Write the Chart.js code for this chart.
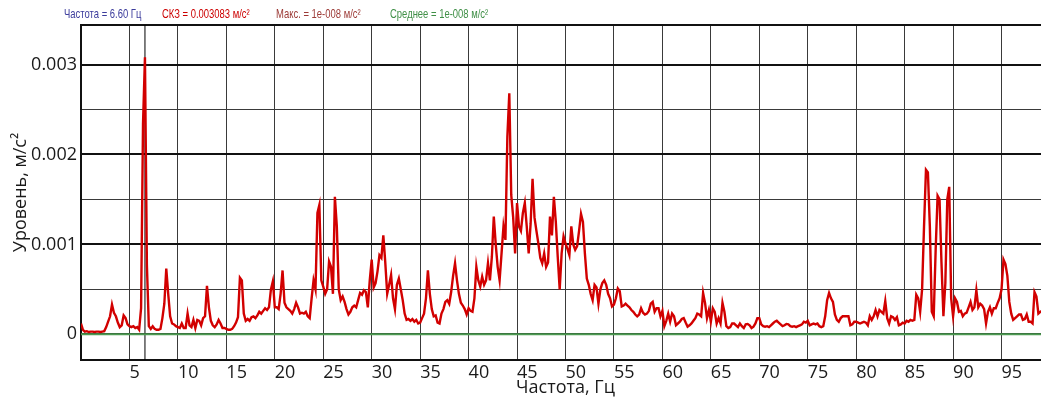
<!DOCTYPE html>
<html lang="ru">
<head>
<meta charset="utf-8">
<title>Спектр</title>
<script src="https://cdn.jsdelivr.net/npm/chart.js@4/dist/chart.umd.min.js"></script>
<style>
  html, body { margin: 0; padding: 0; background: #fff; overflow: hidden; }
  #wrap { position: relative; width: 1041px; height: 401px; overflow: hidden; }
  #spectrum { position: absolute; left: 0; top: 0; }
  .hdr { position: absolute; top: 7px; font: 13.5px/13.5px "Liberation Sans", Arial, sans-serif;
         white-space: nowrap; transform: scaleX(0.7); transform-origin: 0 0; }
</style>
</head>
<body>
<div id="wrap">
  <canvas id="spectrum" width="1050" height="401"></canvas>
  <div class="hdr" style="left:64px;color:#3c3c9c">Частота = 6.60 Гц</div>
  <div class="hdr" style="left:162px;color:#cc0000">СКЗ = 0.003083 м/с²</div>
  <div class="hdr" style="left:276px;color:#9c3a36">Макс. = 1e-008 м/с²</div>
  <div class="hdr" style="left:390px;color:#3f8f46">Среднее = 1e-008 м/с²</div>
</div>
<script>
  // ==================== данные спектра ====================
  // шаг спектра 0.2 Гц, уровни в единицах 1e-4 м/с² (0 ... 100 Гц)
  const FREQ_STEP = 0.2;
  const levelE4 = [
    1.2, 0.5, 0.3, 0.35, 0.25, 0.3, 0.3, 0.25, 0.3, 0.3,
    0.25, 0.3, 0.35, 0.8, 1.4, 2.0, 3.3, 2.4, 2.0, 1.3,
    0.8, 1.0, 2.1, 1.8, 1.1, 0.9, 0.8, 0.9, 0.7, 0.8,
    0.5, 2.9, 23.4, 30.8, 7.7, 0.9, 0.6, 0.9, 0.6, 0.5,
    0.5, 0.6, 1.8, 3.4, 7.3, 4.5, 2.0, 1.2, 1.1, 0.9,
    0.8, 0.7, 1.2, 0.7, 0.7, 2.3, 1.0, 0.8, 1.6, 0.7,
    1.6, 1.5, 1.0, 1.8, 2.0, 5.4, 3.0, 1.5, 1.0, 0.8,
    1.1, 1.6, 1.2, 0.7, 0.7, 0.6, 0.5, 0.5, 0.6, 0.9,
    1.3, 1.9, 6.3, 6.0, 2.3, 1.5, 1.7, 1.5, 1.9, 2.0,
    1.8, 2.1, 2.5, 2.3, 2.6, 2.9, 2.7, 3.0, 5.0, 5.9,
    3.0, 3.0, 2.8, 4.5, 7.1, 3.5, 3.0, 2.8, 2.6, 2.3,
    2.8, 3.5, 3.0, 2.3, 2.4, 2.3, 2.5, 2.0, 1.8, 4.0,
    6.0, 5.0, 13.5, 14.4, 6.0, 5.3, 4.5, 5.0, 8.1, 7.5,
    4.5, 15.3, 12.0, 5.0, 3.8, 4.2, 3.6, 2.8, 2.2, 2.5,
    3.0, 3.2, 3.0, 3.8, 4.6, 4.4, 4.9, 4.7, 3.0, 6.0,
    8.3, 5.2, 5.7, 7.0, 8.8, 8.5, 11.0, 8.0, 4.5, 5.5,
    6.6, 4.0, 2.8, 5.5, 6.2, 5.0, 3.8, 2.3, 1.6, 1.7,
    1.5, 1.7, 1.4, 1.6, 1.2, 1.3, 1.8, 2.3, 4.0, 7.1,
    4.5, 2.8, 2.0, 2.1, 1.3, 1.2, 2.3, 2.8, 3.6, 3.8,
    3.4, 4.7, 6.5, 7.9, 6.0, 4.5, 3.5, 3.2, 2.8, 2.2,
    2.9, 2.6, 2.5, 4.0, 7.5, 6.0, 5.3, 6.4, 5.5, 6.0,
    7.9, 6.0, 8.6, 13.1, 10.0, 7.5, 6.0, 9.0, 12.0, 10.5,
    22.0, 26.8, 15.5, 13.0, 9.0, 14.6, 12.0, 11.5, 13.5, 14.6,
    12.0, 9.0, 12.3, 17.3, 13.0, 11.5, 10.1, 8.5, 7.9, 9.0,
    7.5, 8.0, 13.1, 11.0, 15.3, 12.5, 8.6, 5.0, 9.0, 10.9,
    10.1, 9.5, 8.8, 12.0, 10.0, 9.4, 9.8, 11.5, 13.4, 12.5,
    9.0, 6.2, 5.5, 4.5, 3.8, 5.5, 5.2, 3.4, 5.0, 5.7,
    6.0, 5.5, 4.5, 4.0, 3.1, 3.3, 4.0, 5.1, 4.8, 3.1,
    3.2, 3.4, 3.2, 3.0, 2.7, 2.5, 2.2, 2.0, 2.2, 2.9,
    2.4, 2.2, 2.3, 2.6, 3.4, 3.6, 2.5, 2.9, 2.9, 2.0,
    2.6, 0.9, 1.5, 2.3, 1.4, 2.3, 2.0, 1.0, 1.2, 1.4,
    1.7, 1.8, 1.3, 0.85, 1.0, 1.2, 1.5, 1.8, 2.3, 2.2,
    2.0, 4.6, 3.5, 1.8, 2.7, 1.4, 2.9, 2.5, 1.2, 1.8,
    1.2, 3.5, 2.5, 0.9, 0.7, 0.8, 1.2, 1.2, 1.0, 0.8,
    1.2, 0.9, 0.7, 1.1, 1.15, 1.0, 0.7, 0.85, 1.2, 1.8,
    1.8, 1.1, 0.9, 0.85, 0.9, 0.8, 1.0, 1.2, 1.4, 1.5,
    1.3, 1.1, 0.9, 1.0, 1.15, 1.1, 0.9, 0.85, 0.9, 0.8,
    0.9, 1.0, 1.1, 1.4, 1.3, 1.5, 1.0, 1.1, 1.2, 1.1,
    1.2, 0.9, 0.8, 0.9, 2.0, 3.8, 4.6, 4.0, 3.6, 2.2,
    1.6, 1.4, 1.8, 2.0, 2.0, 2.0, 2.0, 1.0, 1.1, 1.4,
    1.4, 1.3, 1.2, 1.3, 1.4, 1.3, 1.0, 2.0, 1.6, 2.0,
    2.7, 2.0, 2.7, 2.5, 2.3, 3.7, 1.8, 1.2, 2.0, 1.9,
    1.6, 1.9, 1.0, 1.1, 1.3, 1.2, 1.5, 1.4, 1.6, 1.5,
    1.6, 4.4, 4.0, 2.5, 5.0, 12.0, 18.3, 18.0, 12.0, 2.5,
    2.0, 9.4, 15.4, 15.0, 8.0, 2.0, 5.7, 15.0, 16.4, 4.0,
    2.0, 4.0, 3.6, 2.5, 2.6, 2.0, 2.3, 2.4, 3.0, 3.6,
    2.7, 3.0, 4.9, 3.0, 3.4, 3.2, 2.8, 1.2, 2.5, 3.0,
    2.3, 2.9, 2.9, 3.5, 4.0, 5.0, 8.3, 7.8, 6.5, 3.6,
    2.3, 1.6, 1.8, 2.0, 2.2, 2.2, 1.6, 1.7, 2.2, 1.4,
    1.4, 1.2, 4.7, 4.2, 2.3, 2.5, 2.6, 2.5, 2.4, 2.6,
    2.5
  ];

  const X_TICKS = [5, 10, 15, 20, 25, 30, 35, 40, 45, 50, 55, 60, 65, 70, 75, 80, 85, 90, 95];
  const Y_TICKS = [0, 0.0005, 0.001, 0.0015, 0.002, 0.0025, 0.003];
  const X_MIN = 0, X_MAX = 100;
  const Y_MIN = -0.000286, Y_MAX = 0.00344;

  const cursorFreq = 6.6;   // маркер "Частота = 6.60 Гц"
  const meanLevel = 1e-8;   // "Среднее = 1e-008"

  // ==================== построение ====================

  const spectrumPoints = levelE4.map((v, i) => ({ x: +(i * FREQ_STEP).toFixed(1), y: v * 1e-4 }));

  const axisFont = { family: '"Open Sans", "Noto Sans", sans-serif', size: 18 };
  const isMajorY = v => v >= Y_MAX - 1e-9 || Math.abs(v * 1000 - Math.round(v * 1000)) < 1e-6;

  new Chart(document.getElementById('spectrum'), {
    type: 'line',
    data: {
      datasets: [
        {
          data: spectrumPoints,
          borderColor: '#d20000',
          borderWidth: 2.4,
          pointRadius: 0,
          tension: 0
        },
        {
          data: [{ x: X_MIN, y: meanLevel }, { x: X_MAX, y: meanLevel }],
          borderColor: '#4d9a52',
          borderWidth: 2,
          pointRadius: 0
        },
        {
          data: [{ x: cursorFreq, y: Y_MIN }, { x: cursorFreq, y: Y_MAX }],
          borderColor: '#000',
          borderWidth: 1,
          pointRadius: 0
        }
      ]
    },
    options: {
      responsive: false,
      devicePixelRatio: 1,
      animation: false,
      layout: { padding: { top: 25, right: 0, bottom: 0, left: 0 } },
      plugins: { legend: { display: false }, tooltip: { enabled: false } },
      scales: {
        x: {
          type: 'linear',
          min: X_MIN,
          max: X_MAX,
          afterBuildTicks: s => { s.ticks = X_TICKS.map(v => ({ value: v })); },
          afterFit: s => { s.height = 41; s.paddingLeft = 0; s.paddingRight = 0; },
          grid: { color: '#3a3a3a', lineWidth: 1, drawTicks: false },
          border: { display: true, color: '#111', width: 2 },
          ticks: {
            align: 'start',
            autoSkip: false,
            maxRotation: 0,
            padding: 2,
            color: '#1a1a1a',
            font: axisFont,
            callback: v => String(v)
          },
          title: {
            display: true,
            text: 'Частота, Гц',
            color: '#1a1a1a',
            font: axisFont,
            padding: { top: 0, bottom: 2.5 }
          }
        },
        y: {
          min: Y_MIN,
          max: Y_MAX,
          afterBuildTicks: s => { s.ticks = Y_TICKS.concat([Y_MAX]).map(v => ({ value: v })); },
          afterFit: s => { s.width = 81; s.paddingTop = 0; s.paddingBottom = 0; },
          grid: {
            drawTicks: false,
            color: c => isMajorY(c.tick.value) ? '#111' : '#3a3a3a',
            lineWidth: c => isMajorY(c.tick.value) ? 2 : 1
          },
          border: { display: true, color: '#111', width: 2 },
          ticks: {
            padding: 4,
            color: '#1a1a1a',
            font: axisFont,
            callback: v => {
              if (v > 0.0031) return '';
              if (Math.abs(v * 1000 - Math.round(v * 1000)) > 1e-6) return '';
              return v === 0 ? '0' : v.toFixed(3);
            }
          },
          title: {
            display: true,
            text: 'Уровень, м/с²',
            color: '#1a1a1a',
            font: axisFont,
            padding: { top: 10.5, bottom: 0 }
          }
        }
      }
    }
  });
</script>
</body>
</html>
